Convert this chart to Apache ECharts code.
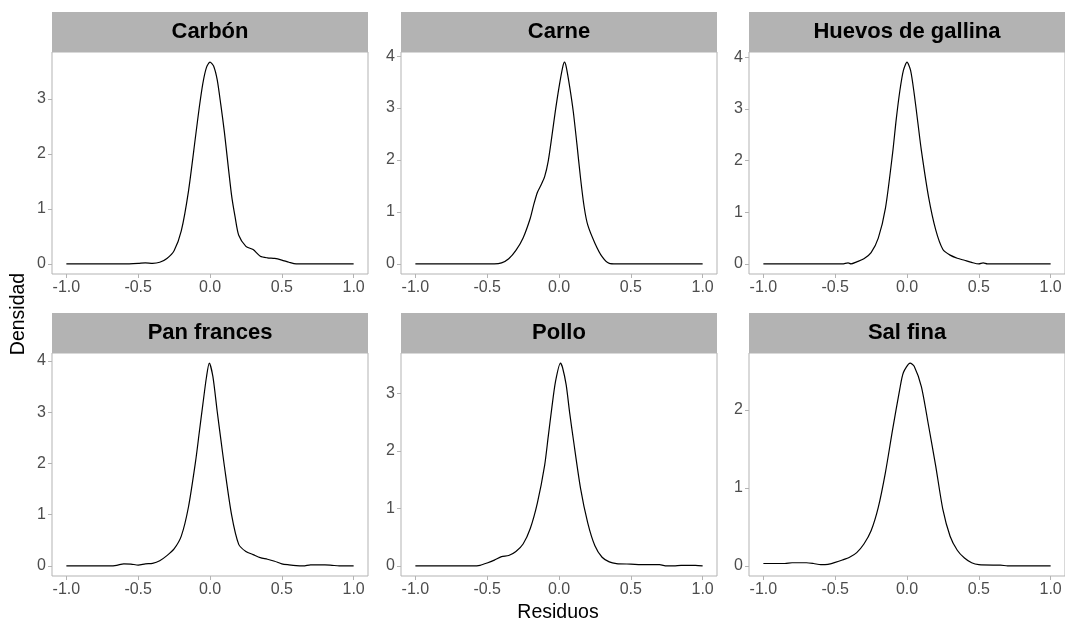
<!DOCTYPE html>
<html>
<head>
<meta charset="utf-8">
<script src="https://cdn.jsdelivr.net/npm/echarts@6/dist/echarts.min.js"></script>
<style>
html,body{margin:0;padding:0;background:#fff;}
#chart{width:1065px;height:622px;}
</style>
</head>
<body>
<div id="chart"></div>
<script>
// ---- Data ----
const panelNames = ["Carbón", "Carne", "Huevos de gallina", "Pan frances", "Pollo", "Sal fina"];
const xTicks = [-1.0, -0.5, 0.0, 0.5, 1.0];
const yTicksCarbon = [0, 1, 2, 3];
const yTicksCarne = [0, 1, 2, 3, 4];
const yTicksHuevos = [0, 1, 2, 3, 4];
const yTicksPan = [0, 1, 2, 3, 4];
const yTicksPollo = [0, 1, 2, 3];
const yTicksSal = [0, 1, 2];

const carbonX = [-1.0,-0.9,-0.8,-0.7,-0.6,-0.5,-0.45,-0.4,-0.35,-0.3,-0.25,-0.2,-0.15,-0.1,-0.075,-0.05,-0.025,0,0.025,0.05,0.075,0.1,0.15,0.175,0.2,0.25,0.3,0.35,0.4,0.45,0.5,0.55,0.6,0.7,0.8,0.9,1.0];
const carbonY = [0,0,0,0,0,0.01,0.02,0.01,0.03,0.1,0.24,0.6,1.32,2.33,2.84,3.28,3.57,3.67,3.6,3.35,2.9,2.4,1.25,0.85,0.52,0.32,0.26,0.14,0.11,0.1,0.07,0.03,0,0,0,0,0];

const carneX = [-1.0,-0.9,-0.8,-0.7,-0.6,-0.5,-0.45,-0.4,-0.35,-0.3,-0.25,-0.2,-0.175,-0.15,-0.125,-0.1,-0.075,-0.05,-0.025,0,0.025,0.038,0.05,0.075,0.1,0.125,0.15,0.175,0.2,0.25,0.3,0.35,0.4,0.5,0.6,0.7,0.8,0.9,1.0];
const carneY = [0,0,0,0,0,0,0,0.02,0.1,0.26,0.5,0.88,1.15,1.38,1.52,1.68,1.98,2.45,2.95,3.4,3.78,3.885,3.8,3.4,2.92,2.3,1.65,1.1,0.75,0.4,0.14,0.01,0,0,0,0,0,0,0];

const huevosX = [-1.0,-0.9,-0.8,-0.7,-0.6,-0.5,-0.45,-0.41,-0.39,-0.35,-0.3,-0.25,-0.2,-0.15,-0.1,-0.075,-0.05,-0.025,0,0.025,0.05,0.075,0.1,0.15,0.2,0.25,0.3,0.35,0.4,0.45,0.5,0.53,0.56,0.6,0.7,0.8,0.9,1.0];
const huevosY = [0,0,0,0,0,0,0,0.02,0.0,0.04,0.1,0.22,0.5,1.08,2.15,2.8,3.35,3.75,3.91,3.75,3.3,2.75,2.2,1.3,0.66,0.28,0.17,0.11,0.07,0.03,0.0,0.02,0,0,0,0,0,0];

const panX = [-1.0,-0.9,-0.8,-0.7,-0.65,-0.6,-0.55,-0.5,-0.45,-0.4,-0.35,-0.3,-0.25,-0.2,-0.15,-0.1,-0.075,-0.05,-0.025,-0.005,0.02,0.05,0.075,0.1,0.15,0.2,0.25,0.3,0.35,0.4,0.45,0.5,0.55,0.6,0.65,0.7,0.8,0.85,0.9,1.0];
const panY = [0,0,0,0,0.01,0.04,0.035,0.015,0.04,0.05,0.1,0.2,0.33,0.58,1.15,2.05,2.6,3.15,3.68,3.96,3.7,3.02,2.48,1.95,1.0,0.42,0.28,0.22,0.16,0.13,0.09,0.04,0.02,0.005,0,0.02,0.02,0.01,0,0];

const polloX = [-1.0,-0.9,-0.8,-0.7,-0.6,-0.55,-0.5,-0.45,-0.4,-0.35,-0.3,-0.25,-0.2,-0.15,-0.1,-0.075,-0.05,-0.025,0.01,0.025,0.05,0.075,0.1,0.15,0.2,0.25,0.3,0.35,0.4,0.5,0.6,0.7,0.75,0.8,0.85,0.95,1.0];
const polloY = [0,0,0,0,0,0.01,0.05,0.1,0.16,0.18,0.25,0.38,0.65,1.1,1.75,2.25,2.75,3.2,3.53,3.45,3.15,2.65,2.2,1.35,0.75,0.35,0.15,0.07,0.04,0.03,0.02,0.02,0,0,0.01,0.01,0];

const salX = [-1.0,-0.9,-0.85,-0.8,-0.7,-0.65,-0.6,-0.55,-0.5,-0.45,-0.4,-0.35,-0.3,-0.25,-0.2,-0.15,-0.1,-0.05,-0.025,0.022,0.05,0.1,0.15,0.2,0.25,0.3,0.35,0.4,0.45,0.5,0.6,0.65,0.7,0.8,0.9,1.0];
const salY = [0.03,0.03,0.03,0.04,0.04,0.03,0.015,0.02,0.045,0.075,0.11,0.17,0.28,0.45,0.75,1.2,1.75,2.27,2.48,2.6,2.56,2.3,1.8,1.28,0.72,0.38,0.2,0.1,0.04,0.015,0.01,0.01,0,0,0,0];

const panelsX = [carbonX, carneX, huevosX, panX, polloX, salX];
const panelsY = [carbonY, carneY, huevosY, panY, polloY, salY];
const panelsYTicks = [yTicksCarbon, yTicksCarne, yTicksHuevos, yTicksPan, yTicksPollo, yTicksSal];

// ---- Layout ----
const colLeft = [52, 401, 749];
const colWidth = 316;
const rowTop = [52, 353];
const rowHeight = [222, 223];
const stripH = 40;
const grey70 = '#B3B3B3';
const grey30 = '#4D4D4D';
const font = 'Arial, "Liberation Sans", sans-serif';

const grids = [], xAxes = [], yAxes = [], series = [], graphics = [];
for (let i = 0; i < 6; i++) {
  const r = Math.floor(i / 3), c = i % 3;
  const left = colLeft[c], top = rowTop[r], h = rowHeight[r];
  grids.push({left: left, top: top, width: colWidth, height: h, show: true,
    borderColor: grey70, borderWidth: 1, backgroundColor: '#fff', containLabel: false});
  const peak = Math.max.apply(null, panelsY[i]);
  xAxes.push({type: 'value', gridIndex: i, min: -1.1, max: 1.1, position: 'bottom',
    splitLine: {show: false}, axisLine: {show: false, onZero: false},
    axisTick: {show: true, length: 4, lineStyle: {color: grey70, width: 1}, customValues: xTicks},
    axisLabel: {show: true, color: grey30, fontSize: 16, fontFamily: font, margin: 6,
      customValues: xTicks, formatter: v => v.toFixed(1)}});
  yAxes.push({type: 'value', gridIndex: i, min: -0.05 * peak, max: 1.05 * peak, position: 'left',
    splitLine: {show: false}, axisLine: {show: false, onZero: false},
    axisTick: {show: true, length: 4, lineStyle: {color: grey70, width: 1}, customValues: panelsYTicks[i]},
    axisLabel: {show: true, color: grey30, fontSize: 16, fontFamily: font, margin: 6,
      customValues: panelsYTicks[i], formatter: v => String(v)}});
  series.push({type: 'line', xAxisIndex: i, yAxisIndex: i, showSymbol: false, symbol: 'none',
    smooth: 0.25, lineStyle: {color: '#000', width: 1.2},
    data: panelsX[i].map((x, k) => [x, panelsY[i][k]]), animation: false});
  graphics.push({type: 'rect', shape: {x: left, y: top - stripH, width: colWidth, height: stripH},
    style: {fill: grey70}, silent: true});
  graphics.push({type: 'text', x: left + colWidth / 2, y: top - stripH / 2,
    style: {text: panelNames[i], fill: '#000', font: 'bold 22px ' + font, align: 'center', verticalAlign: 'middle'}});
}
graphics.push({type: 'text', x: 558, y: 613,
  style: {text: 'Residuos', fill: '#000', font: '19.5px ' + font, align: 'center', verticalAlign: 'middle'}});
graphics.push({type: 'text', x: 18.5, y: 314, rotation: Math.PI / 2,
  style: {text: 'Densidad', fill: '#000', font: '19.5px ' + font, align: 'center', verticalAlign: 'middle'}});

const chart = echarts.init(document.getElementById('chart'), null, {renderer: 'canvas'});
chart.setOption({
  animation: false,
  backgroundColor: '#fff',
  grid: grids, xAxis: xAxes, yAxis: yAxes, series: series, graphic: graphics
});
</script>
</body>
</html>
